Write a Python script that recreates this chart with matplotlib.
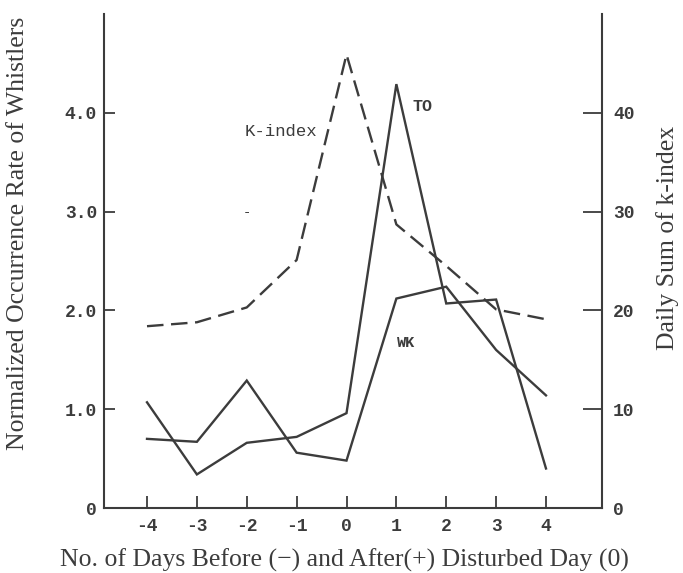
import matplotlib
matplotlib.use("Agg")
import matplotlib.pyplot as plt

# days relative to the disturbed day
days = [-4, -3, -2, -1, 0, 1, 2, 3, 4]

# normalized occurrence rate of whistlers (left axis)
to_rate = [1.07, 0.34, 0.66, 0.72, 0.96, 4.29, 2.07, 2.11, 0.40]
wk_rate = [0.70, 0.67, 1.29, 0.56, 0.48, 2.12, 2.24, 1.60, 1.14]

# daily sum of k-index (right axis)
k_index_sum = [18.4, 18.8, 20.3, 25.1, 45.9, 28.7, 24.5, 20.1, 19.1]

left_ticks = [0, 1, 2, 3, 4]
left_labels = ["0", "1.0", "2.0", "3.0", "4.0"]
right_ticks = [0, 10, 20, 30, 40]
right_labels = ["0", "10", "20", "30", "40"]
x_labels = ["-4", "-3", "-2", "-1", "0", "1", "2", "3", "4"]

INK = "#3c3c3c"
MONO = ["Liberation Mono", "DejaVu Sans Mono"]
SERIF = ["Liberation Serif", "DejaVu Serif"]

fig = plt.figure(figsize=(6.83, 5.73), dpi=100)
ax = fig.add_axes([0.1523, 0.1134, 0.7291, 0.8622])
ax2 = ax.twinx()

ax.plot(days, to_rate, color=INK, lw=1.7, solid_joinstyle="miter")
ax.plot(days, wk_rate, color=INK, lw=1.7, solid_joinstyle="miter")
ax2.plot(days, k_index_sum, color=INK, lw=1.7, linestyle=(0, (7, 3.2)))

ax.set_xlim(-4.862, 5.123)
ax.set_ylim(0, 5.0)
ax2.set_ylim(0, 50)

ax.set_xticks(days)
ax.set_xticklabels(x_labels)
ax.set_yticks(left_ticks)
ax.set_yticklabels(left_labels)
ax2.set_yticks(right_ticks)
ax2.set_yticklabels(right_labels)

for a in (ax, ax2):
    for s in a.spines.values():
        s.set_visible(False)
    for lbl in a.get_xticklabels() + a.get_yticklabels():
        lbl.set_family(MONO)
        lbl.set_weight("bold")
        lbl.set_size(13)
        lbl.set_color(INK)

for name in ("left", "bottom"):
    ax.spines[name].set_visible(True)
    ax.spines[name].set_color(INK)
    ax.spines[name].set_linewidth(1.5)
ax2.spines["right"].set_visible(True)
ax2.spines["right"].set_color(INK)
ax2.spines["right"].set_linewidth(1.5)

ax.tick_params(axis="x", direction="in", length=9, width=1.3, pad=7, color=INK)
ax.tick_params(axis="y", direction="in", length=8, width=1.3, pad=5, color=INK)
ax2.tick_params(axis="y", direction="in", length=14, width=1.3, pad=8, color=INK)

# curve labels
ax.text(-2.04, 3.81, "K-index", family=MONO, size=12.5, color=INK, va="center")
ax.text(1.33, 4.06, "TO", family=MONO, size=12, weight="bold", color=INK, va="center")
ax.text(1.01, 1.675, "WK", family=MONO, size=11, weight="bold", color=INK, va="center")
ax.text(-2.0, 3.0, "-", family=MONO, size=10, color=INK, ha="center", va="center")

fig.text(0.026, 0.592, "Normalized Occurrence Rate of Whistlers", family=SERIF,
         size=18.5, color=INK, rotation=90, ha="center", va="center")
fig.text(0.977, 0.585, "Daily Sum of k-index", family=SERIF,
         size=18.5, color=INK, rotation=90, ha="center", va="center")
fig.text(0.504, 0.0227, "No. of Days Before (\u2212) and After(+) Disturbed Day (0)",
         family=SERIF, size=18.5, color=INK, ha="center", va="center")

fig.savefig("out.png", dpi=100, facecolor="white")
